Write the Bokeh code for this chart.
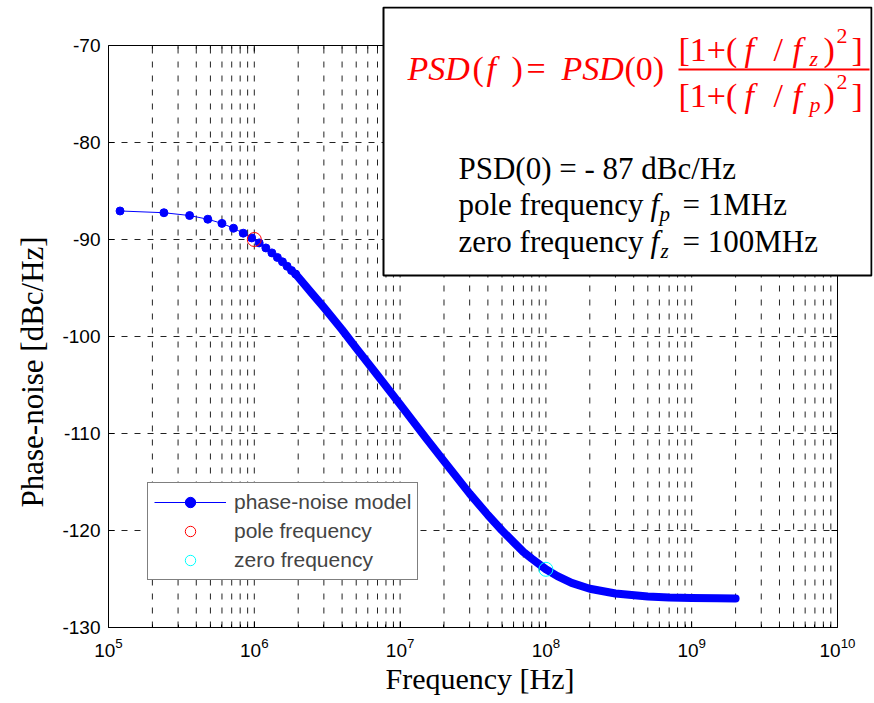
import math
from bokeh.plotting import figure
from bokeh.models import (Range1d, FixedTicker, Title, Legend, LegendItem, Label, BoxAnnotation)
from bokeh.embed import file_html
from bokeh.resources import INLINE

# ---- data ----
freq_hz = [1.2e5, 2.4e5, 3.6e5, 4.8e5, 6.0e5, 7.2e5, 8.4e5, 9.6e5, 1.08e6, 1.2e6,
           1.32e6, 1.44e6, 1.56e6, 1.68e6, 1.8e6, 1.92e6,
           2.5e6, 3e6, 4e6, 5e6, 7e6, 1e7, 1.5e7, 2e7, 3e7, 4e7, 5e7, 6e7, 7e7, 8e7, 1e8,
           1.2e8, 1.5e8, 2e8, 3e8, 5e8, 7e8, 1e9, 1.5e9, 2e9]
psd_dbc = [-87.06, -87.24, -87.53, -87.91, -88.34, -88.84, -89.35, -89.84, -90.35, -90.87,
           -91.38, -91.85, -92.30, -92.76, -93.20, -93.56,
           -95.6, -97.0, -99.3, -101.2, -104.0, -107.0, -110.45, -112.85, -116.2, -118.4,
           -120.0, -121.2, -122.2, -122.9, -124.0,
           -124.7, -125.4, -126.0, -126.5, -126.8, -126.9, -126.95, -126.98, -127.0]
n_sparse = 16  # points that appear as separate dots

pole_freq = [1e6]
pole_psd = [-90.0]
zero_freq = [1e8]
zero_psd = [-124.0]

x_decades = [1e5, 1e6, 1e7, 1e8, 1e9, 1e10]
x_mantissas = [2, 3, 4, 5, 6, 7, 8, 9]
y_ticks = [-130, -120, -110, -100, -90, -80, -70]
y_tick_labels = ["-130", "-120", "-110", "-100", "-90", "-80", "-70"]

minor_ticks = [d * m for d in x_decades[:-1] for m in x_mantissas]

# ---- layout (pixels) ----
W, H = 874, 703
AX_L, AX_R, AX_T, AX_B = 108, 837, 45, 627      # axes box on the page
FR_R, FR_T = 872, 6                              # frame extended to hold the text box
px_per_dec = (AX_R - AX_L) / (len(x_decades) - 1)
px_per_db = (AX_B - AX_T) / (y_ticks[-1] - y_ticks[0])
x_end = x_decades[-1] * 10 ** ((FR_R - AX_R) / px_per_dec)
y_end = y_ticks[-1] + (AX_T - FR_T) / px_per_db

p = figure(width=W, height=H, x_axis_type="log",
           x_range=Range1d(x_decades[0], x_end),
           y_range=Range1d(y_ticks[0], y_end),
           output_backend="svg", toolbar_location=None,
           min_border_left=AX_L, min_border_right=W - FR_R,
           min_border_top=FR_T, min_border_bottom=H - AX_B)
p.background_fill_color = "white"
p.border_fill_color = "white"
p.outline_line_color = None
p.xgrid.visible = False
p.ygrid.visible = False

xt = FixedTicker(ticks=x_decades, minor_ticks=minor_ticks)
yt = FixedTicker(ticks=y_ticks)

xa = p.xaxis[0]
xa.ticker = xt
xa.bounds = (x_decades[0], x_decades[-1])
xa.major_tick_in = 6
xa.major_tick_out = 0
xa.minor_tick_in = 3
xa.minor_tick_out = 0
xa.axis_line_color = "black"
xa.major_tick_line_color = "black"
xa.minor_tick_line_color = "black"
xa.major_label_standoff = 10
xa.major_label_text_font = "Liberation Sans"
xa.major_label_text_font_size = "19px"
xa.major_label_text_color = "black"

ya = p.yaxis[0]
ya.ticker = yt
ya.bounds = (y_ticks[0], y_ticks[-1])
ya.major_label_overrides = {t: s for t, s in zip(y_ticks, y_tick_labels)}
ya.major_tick_in = 6
ya.major_tick_out = 0
ya.minor_tick_line_color = None
ya.major_label_standoff = 8
ya.major_label_text_font = "Liberation Sans"
ya.major_label_text_font_size = "19px"
ya.major_label_text_color = "black"

p.add_layout(Title(text="Phase-noise [dBc/Hz]", align="left", offset=120, standoff=20,
                   text_font="Liberation Serif", text_font_size="31px",
                   text_font_style="normal", text_color="black"), "left")
p.add_layout(Title(text="Frequency [Hz]", align="left", offset=277, standoff=0,
                   text_font="Liberation Serif", text_font_size="30px",
                   text_font_style="normal", text_color="black"), "below")

# ---- grid (dashed, drawn from tick lists) ----
vx = minor_ticks + x_decades[1:-1]
p.segment(x0=vx, y0=[y_ticks[0]] * len(vx), x1=vx, y1=[y_ticks[-1]] * len(vx),
          line_color="#222222", line_width=1, line_dash="6 8")
hy = y_ticks[1:-1]
p.segment(x0=[x_decades[0]] * len(hy), y0=hy, x1=[x_decades[-1]] * len(hy), y1=hy,
          line_color="#222222", line_width=1, line_dash="6 7")

# axes box + ticks on top/right
p.quad(left=[x_decades[0]], right=[x_decades[-1]], bottom=[y_ticks[0]], top=[y_ticks[-1]],
       fill_color=None, line_color="black", line_width=1)
p.ray(x=x_decades, y=[y_ticks[-1]] * len(x_decades), length=6, length_units="screen",
      angle=-math.pi / 2, line_color="black")
p.ray(x=minor_ticks, y=[y_ticks[-1]] * len(minor_ticks), length=3, length_units="screen",
      angle=-math.pi / 2, line_color="black")
p.ray(x=[x_decades[-1]] * len(y_ticks), y=y_ticks, length=6, length_units="screen",
      angle=math.pi, line_color="black")

# ---- series ----
thin = p.line(freq_hz, psd_dbc, line_color="blue", line_width=1)
thick = p.line(freq_hz[n_sparse - 1:], psd_dbc[n_sparse - 1:], line_color="blue",
               line_width=8, line_cap="round", line_join="round")
dots = p.scatter(freq_hz[:n_sparse], psd_dbc[:n_sparse], size=8, marker="circle",
                 fill_color="blue", line_color="blue")
pole = p.scatter(pole_freq, pole_psd, size=14, marker="circle", fill_color=None,
                 line_color="red", line_width=1)
zero = p.scatter(zero_freq, zero_psd, size=14, marker="circle", fill_color=None,
                 line_color="cyan", line_width=1)

legend = Legend(items=[LegendItem(label="phase-noise model", renderers=[thin, dots]),
                       LegendItem(label="pole frequency", renderers=[pole]),
                       LegendItem(label="zero frequency", renderers=[zero])],
                location=(39, 47), label_text_font="Liberation Sans",
                label_text_font_size="21px", glyph_width=72, glyph_height=26,
                spacing=3, padding=6, label_standoff=8, margin=0,
                border_line_color="black", border_line_width=1,
                background_fill_color="white", background_fill_alpha=1)
p.add_layout(legend)

# ---- annotation box (frame-relative screen units) ----
FX, FY = AX_L, AX_B


def txt(px, py, text, size, color="black", style="normal"):
    # py is the wanted baseline on the page; Bokeh sets text a little lower
    sy = FY - (py - round(0.3 * size))
    p.add_layout(Label(x=px - FX, y=sy, x_units="screen", y_units="screen", text=text,
                       text_font="Liberation Serif", text_font_size=f"{size}px",
                       text_color=color, text_font_style=style,
                       text_baseline="alphabetic", text_align="left"))


p.add_layout(BoxAnnotation(left=383 - FX, right=871 - FX, bottom=FY - 275, top=FY - 7,
                           left_units="screen", right_units="screen",
                           bottom_units="screen", top_units="screen",
                           fill_color="white", fill_alpha=1,
                           line_color="black", line_width=2, line_alpha=1))

red = "#ff0000"
txt(407, 78, "PSD", 34, red, "italic")
txt(472, 78, "(", 34, red)
txt(486, 78, "f", 34, red, "italic")
txt(511, 78, ")", 34, red)
txt(526, 78, "=", 34, red)
txt(561, 78, "PSD", 34, red, "italic")
txt(624, 78, "(0)", 34, red)

for base_y, sub in ((59, "z"), (105, "p")):
    txt(678, base_y, "[1+(", 34, red)
    txt(744, base_y, "f", 34, red, "italic")
    txt(773, base_y, "/", 34, red)
    txt(792, base_y, "f", 34, red, "italic")
    txt(809, base_y + 6, sub, 22, red, "italic")
    txt(823, base_y, ")", 34, red)
    txt(836, base_y - 17, "2", 22, red)
    txt(851, base_y, "]", 34, red)

p.add_layout(BoxAnnotation(left=678 - FX, right=869 - FX, bottom=FY - 70, top=FY - 68,
                           left_units="screen", right_units="screen",
                           bottom_units="screen", top_units="screen",
                           fill_color=red, fill_alpha=1, line_color=None))

txt(458, 177, "PSD(0) = - 87 dBc/Hz", 31)
txt(458, 213, "pole frequency", 31)
txt(650, 213, "f", 31, style="italic")
txt(659, 219, "p", 21, style="italic")
txt(682, 213, "= 1MHz", 31)
txt(458, 250, "zero frequency", 31)
txt(650, 250, "f", 31, style="italic")
txt(660, 256, "z", 21, style="italic")
txt(682, 250, "= 100MHz", 31)

open("out.html", "w").write(file_html(p, INLINE))
